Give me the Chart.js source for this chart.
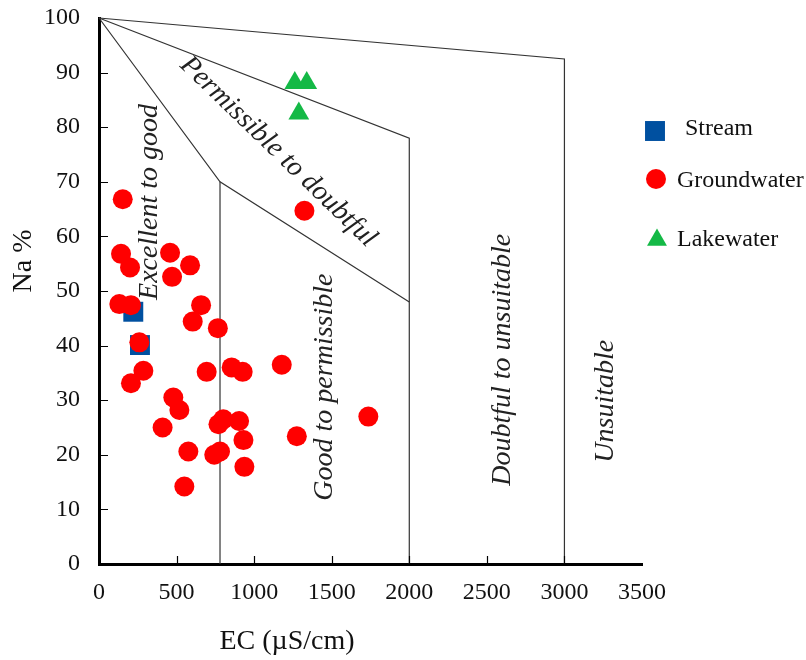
<!DOCTYPE html>
<html>
<head>
<meta charset="utf-8">
<script src="https://cdn.jsdelivr.net/npm/chart.js@4.4.1/dist/chart.umd.min.js"></script>
<style>
html, body { margin: 0; padding: 0; background: #fff; }
#wrap { width: 806px; height: 660px; }
</style>
</head>
<body>
<div id="wrap"><canvas id="wilcoxChart" width="806" height="660"></canvas></div>
<script>
// tick values
const ecTicks = [0, 500, 1000, 1500, 2000, 2500, 3000, 3500];
const naTicks = [0, 10, 20, 30, 40, 50, 60, 70, 80, 90, 100];

// samples (EC in uS/cm, Na in %)
const streamEC = [221, 264];
const streamNa = [46.2, 40.1];

const groundEC = [153, 142, 200, 458, 587, 471, 131, 206, 658, 604, 766, 260, 286, 206, 694, 855, 926,
    1178, 479, 518, 410, 770, 801, 903, 931, 1275, 576, 743, 780, 937, 550, 1324, 1736];
const groundNa = [66.8, 56.8, 54.3, 57.0, 54.7, 52.6, 47.6, 47.4, 47.4, 44.4, 43.2, 40.6, 35.4, 33.1, 35.2, 36.0, 35.2,
    36.5, 30.5, 28.2, 25.0, 25.6, 26.5, 26.2, 22.7, 23.4, 20.6, 20.0, 20.6, 17.8, 14.2, 64.7, 27.0];

const lakeEC = [1262, 1339, 1288];
const lakeNa = [88.1, 88.1, 82.5];

// Wilcox class boundaries
const limit1EC = [0, 3000, 3000];
const limit1Na = [100, 92.5, 0];
const limit2EC = [0, 2000, 2000];
const limit2Na = [100, 78, 0];
const limit3EC = [0, 780, 2000];
const limit3Na = [100, 70, 48];
const limit4EC = [780, 780];
const limit4Na = [70, 0];

const regionNames = ['Excellent to good', 'Permissible to doubtful', 'Good to permissible', 'Doubtful to unsuitable', 'Unsuitable'];
const regionEC = [329, 1155, 1457, 2600, 3268];
const regionNa = [66.3, 75.5, 32.4, 37.4, 29.8];
const regionAngle = [-90, 44, -90, -90, -90];

const toPoints = (xs, ys) => xs.map((x, i) => ({ x: x, y: ys[i] }));

const serif = "'Liberation Serif', 'Times New Roman', serif";
const blue = '#0050a0';
const red = '#ff0000';
const green = '#14b946';

function lineSet(xs, ys) {
    return {
        type: 'line',
        data: toPoints(xs, ys),
        borderColor: '#333',
        borderWidth: 1.2,
        pointRadius: 0,
        fill: false,
        tension: 0,
        order: 10
    };
}

// inward ticks, titles, region labels and legend
const decorations = {
    id: 'decorations',
    beforeDatasetsDraw(chart) {
        const ctx = chart.ctx;
        const x = chart.scales.x;
        const y = chart.scales.y;
        ctx.save();
        ctx.fillStyle = '#222';
        ctx.font = 'italic 28px ' + serif;
        ctx.textAlign = 'center';
        ctx.textBaseline = 'middle';
        regionNames.forEach((name, i) => {
            ctx.save();
            ctx.translate(x.getPixelForValue(regionEC[i]), y.getPixelForValue(regionNa[i]));
            ctx.rotate(regionAngle[i] * Math.PI / 180);
            ctx.fillText(name, 0, 0);
            ctx.restore();
        });
        ctx.restore();
    },
    afterDraw(chart) {
        const ctx = chart.ctx;
        const x = chart.scales.x;
        const y = chart.scales.y;
        const area = chart.chartArea;
        ctx.save();
        ctx.strokeStyle = '#000';
        ctx.lineWidth = 1.2;
        ctx.beginPath();
        naTicks.forEach(v => {
            if (v === 0 || v === 100) return;
            const py = Math.round(y.getPixelForValue(v)) + 0.5;
            ctx.moveTo(area.left, py);
            ctx.lineTo(area.left + 9, py);
        });
        ecTicks.forEach(v => {
            if (v === 0 || v === 3500) return;
            const px = Math.round(x.getPixelForValue(v)) + 0.5;
            ctx.moveTo(px, area.bottom);
            ctx.lineTo(px, area.bottom - 8);
        });
        ctx.stroke();

        // axis titles
        ctx.fillStyle = '#111';
        ctx.font = '28px ' + serif;
        ctx.textAlign = 'center';
        ctx.textBaseline = 'middle';
        ctx.fillText('EC (\u00b5S/cm)', 287, 642);
        ctx.save();
        ctx.translate(24, 261);
        ctx.rotate(-Math.PI / 2);
        ctx.fillText('Na %', 0, 0);
        ctx.restore();

        // legend
        const items = [
            { label: 'Stream', color: blue, style: 'rect', r: 14.1, mx: 655, my: 131, tx: 685, ty: 135 },
            { label: 'Groundwater', color: red, style: 'circle', r: 10, mx: 656, my: 179, tx: 677, ty: 187 },
            { label: 'Lakewater', color: green, style: 'triangle', r: 11.5, mx: 657, my: 240, tx: 677, ty: 246 }
        ];
        ctx.font = '24px ' + serif;
        ctx.textAlign = 'left';
        ctx.textBaseline = 'alphabetic';
        items.forEach(it => {
            ctx.fillStyle = it.color;
            ctx.strokeStyle = it.color;
            Chart.helpers.drawPoint(ctx, { pointStyle: it.style, radius: it.r, rotation: 0, borderWidth: 0 }, it.mx, it.my);
            ctx.fillStyle = '#111';
            ctx.fillText(it.label, it.tx, it.ty);
        });
        ctx.restore();
    }
};

const ctx = document.getElementById('wilcoxChart').getContext('2d');
new Chart(ctx, {
    type: 'scatter',
    data: {
        datasets: [
            lineSet(limit1EC, limit1Na),
            lineSet(limit2EC, limit2Na),
            lineSet(limit3EC, limit3Na),
            lineSet(limit4EC, limit4Na),
            {
                label: 'Stream',
                data: toPoints(streamEC, streamNa),
                pointStyle: 'rect',
                pointRadius: 14.1,
                backgroundColor: blue,
                borderColor: blue,
                borderWidth: 0,
                order: 3
            },
            {
                label: 'Groundwater',
                data: toPoints(groundEC, groundNa),
                pointStyle: 'circle',
                pointRadius: 10,
                backgroundColor: red,
                borderColor: red,
                borderWidth: 0,
                order: 2
            },
            {
                label: 'Lakewater',
                data: toPoints(lakeEC, lakeNa),
                pointStyle: 'triangle',
                pointRadius: 12,
                backgroundColor: green,
                borderColor: green,
                borderWidth: 0,
                order: 1
            }
        ]
    },
    options: {
        responsive: false,
        animation: false,
        clip: false,
        layout: { padding: { left: 0, top: 18, right: 164, bottom: 0 } },
        plugins: {
            legend: { display: false },
            tooltip: { enabled: false }
        },
        scales: {
            x: {
                type: 'linear',
                min: 0,
                max: 3500,
                afterFit: scale => { scale.height = 96; },
                afterBuildTicks: scale => { scale.ticks = ecTicks.map(v => ({ value: v })); },
                ticks: {
                    color: '#111',
                    font: { family: serif, size: 24 },
                    padding: 14,
                    maxRotation: 0,
                    callback: value => String(value)
                },
                grid: { display: false, drawTicks: false },
                border: { display: true, color: '#000', width: 3 }
            },
            y: {
                type: 'linear',
                min: 0,
                max: 100,
                afterFit: scale => {
                    scale.width = 99;
                    scale.paddingTop = 0;
                    scale.paddingBottom = 0;
                },
                afterBuildTicks: scale => { scale.ticks = naTicks.map(v => ({ value: v })); },
                ticks: {
                    color: '#111',
                    font: { family: serif, size: 24 },
                    padding: 19,
                    callback: value => String(value)
                },
                grid: { display: false, drawTicks: false },
                border: { display: true, color: '#000', width: 3 }
            }
        }
    },
    plugins: [decorations]
});
</script>
</body>
</html>
